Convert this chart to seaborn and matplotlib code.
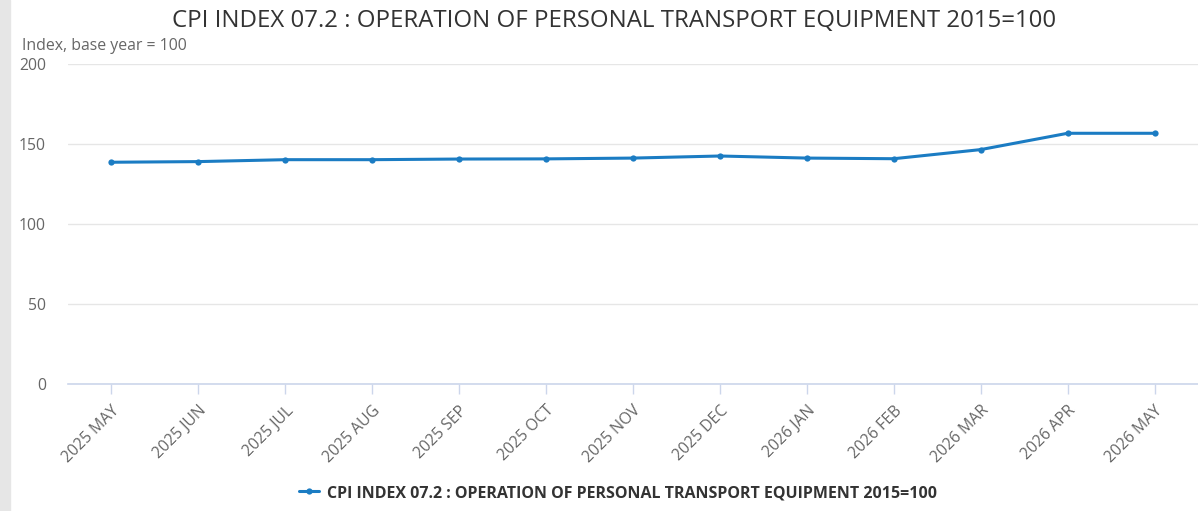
import matplotlib.pyplot as plt
import pandas as pd
import seaborn as sns

# CPI 07.2 monthly index values (2015=100)
months = ['2025 MAY', '2025 JUN', '2025 JUL', '2025 AUG', '2025 SEP', '2025 OCT', '2025 NOV',
          '2025 DEC', '2026 JAN', '2026 FEB', '2026 MAR', '2026 APR', '2026 MAY']
index_values = [138.6, 139.0, 140.2, 140.2, 140.6, 140.7, 141.2,
                142.5, 141.2, 140.8, 146.5, 156.7, 156.7]
series_name = 'CPI INDEX 07.2 : OPERATION OF PERSONAL TRANSPORT EQUIPMENT 2015=100'
y_ticks = [0, 50, 100, 150, 200]

df = pd.DataFrame({'Month': months, 'Index': index_values})
df['pos'] = range(len(df))

sns.set_style(style='white')
plt.rcParams['font.family'] = ['Open Sans', 'DejaVu Sans']

fig = plt.figure(figsize=(11.98, 5.11), dpi=100)
# grey strip on the left edge of the screenshot
fig.patches.append(plt.Rectangle((0, 0), 10 / 1198, 1, transform=fig.transFigure,
                                 color='#e6e6e6', zorder=0))
ax = fig.add_axes([68 / 1198, 1 - 384 / 511, (1198 - 68) / 1198, 320 / 511])

line_color = '#1b7cc3'
sns.lineplot(data=df, x='pos', y='Index', ax=ax, color=line_color, linewidth=2.2,
             marker='o', markersize=4.5, markeredgewidth=0, label=series_name, legend=False)

ax.set_xlim(-0.5, len(months) - 0.5)
ax.set_ylim(0, 200)
ax.set_yticks(y_ticks)
ax.set_xticks(df['pos'])
ax.set_xticklabels(months, rotation=45, ha='right', rotation_mode='anchor')
ax.grid(axis='y', color='#e6e6e6', linewidth=1)
ax.set_axisbelow(True)
for s in ['left', 'right', 'top']:
    ax.spines[s].set_visible(False)
ax.spines['bottom'].set_color('#ccd6eb')
ax.spines['bottom'].set_linewidth(1.2)
ax.tick_params(axis='x', colors='#ccd6eb', length=7.5, width=1, labelcolor='#666666',
               labelsize=11.3, pad=6, direction='out', bottom=True)
ax.tick_params(axis='y', length=0, labelcolor='#666666', labelsize=11.3, pad=16)
ax.set_xlabel('')
ax.set_ylabel('')

fig.text(22 / 1198, 1 - 46 / 511, 'Index, base year = 100', color='#666666', fontsize=11.4,
         ha='left', va='center')
fig.text(614 / 1198, 1 - 21 / 511, series_name, color='#333333', fontsize=17.3,
         ha='center', va='center')

h, l = ax.get_legend_handles_labels()
leg = fig.legend(h, l, loc='center', bbox_to_anchor=(618 / 1198, 1 - 493 / 511), frameon=False,
                 prop={'weight': 'bold', 'size': 11.5}, handlelength=1.2, handletextpad=0.5)
for t in leg.get_texts():
    t.set_color('#333333')

fig.savefig('out.png', dpi=100)
